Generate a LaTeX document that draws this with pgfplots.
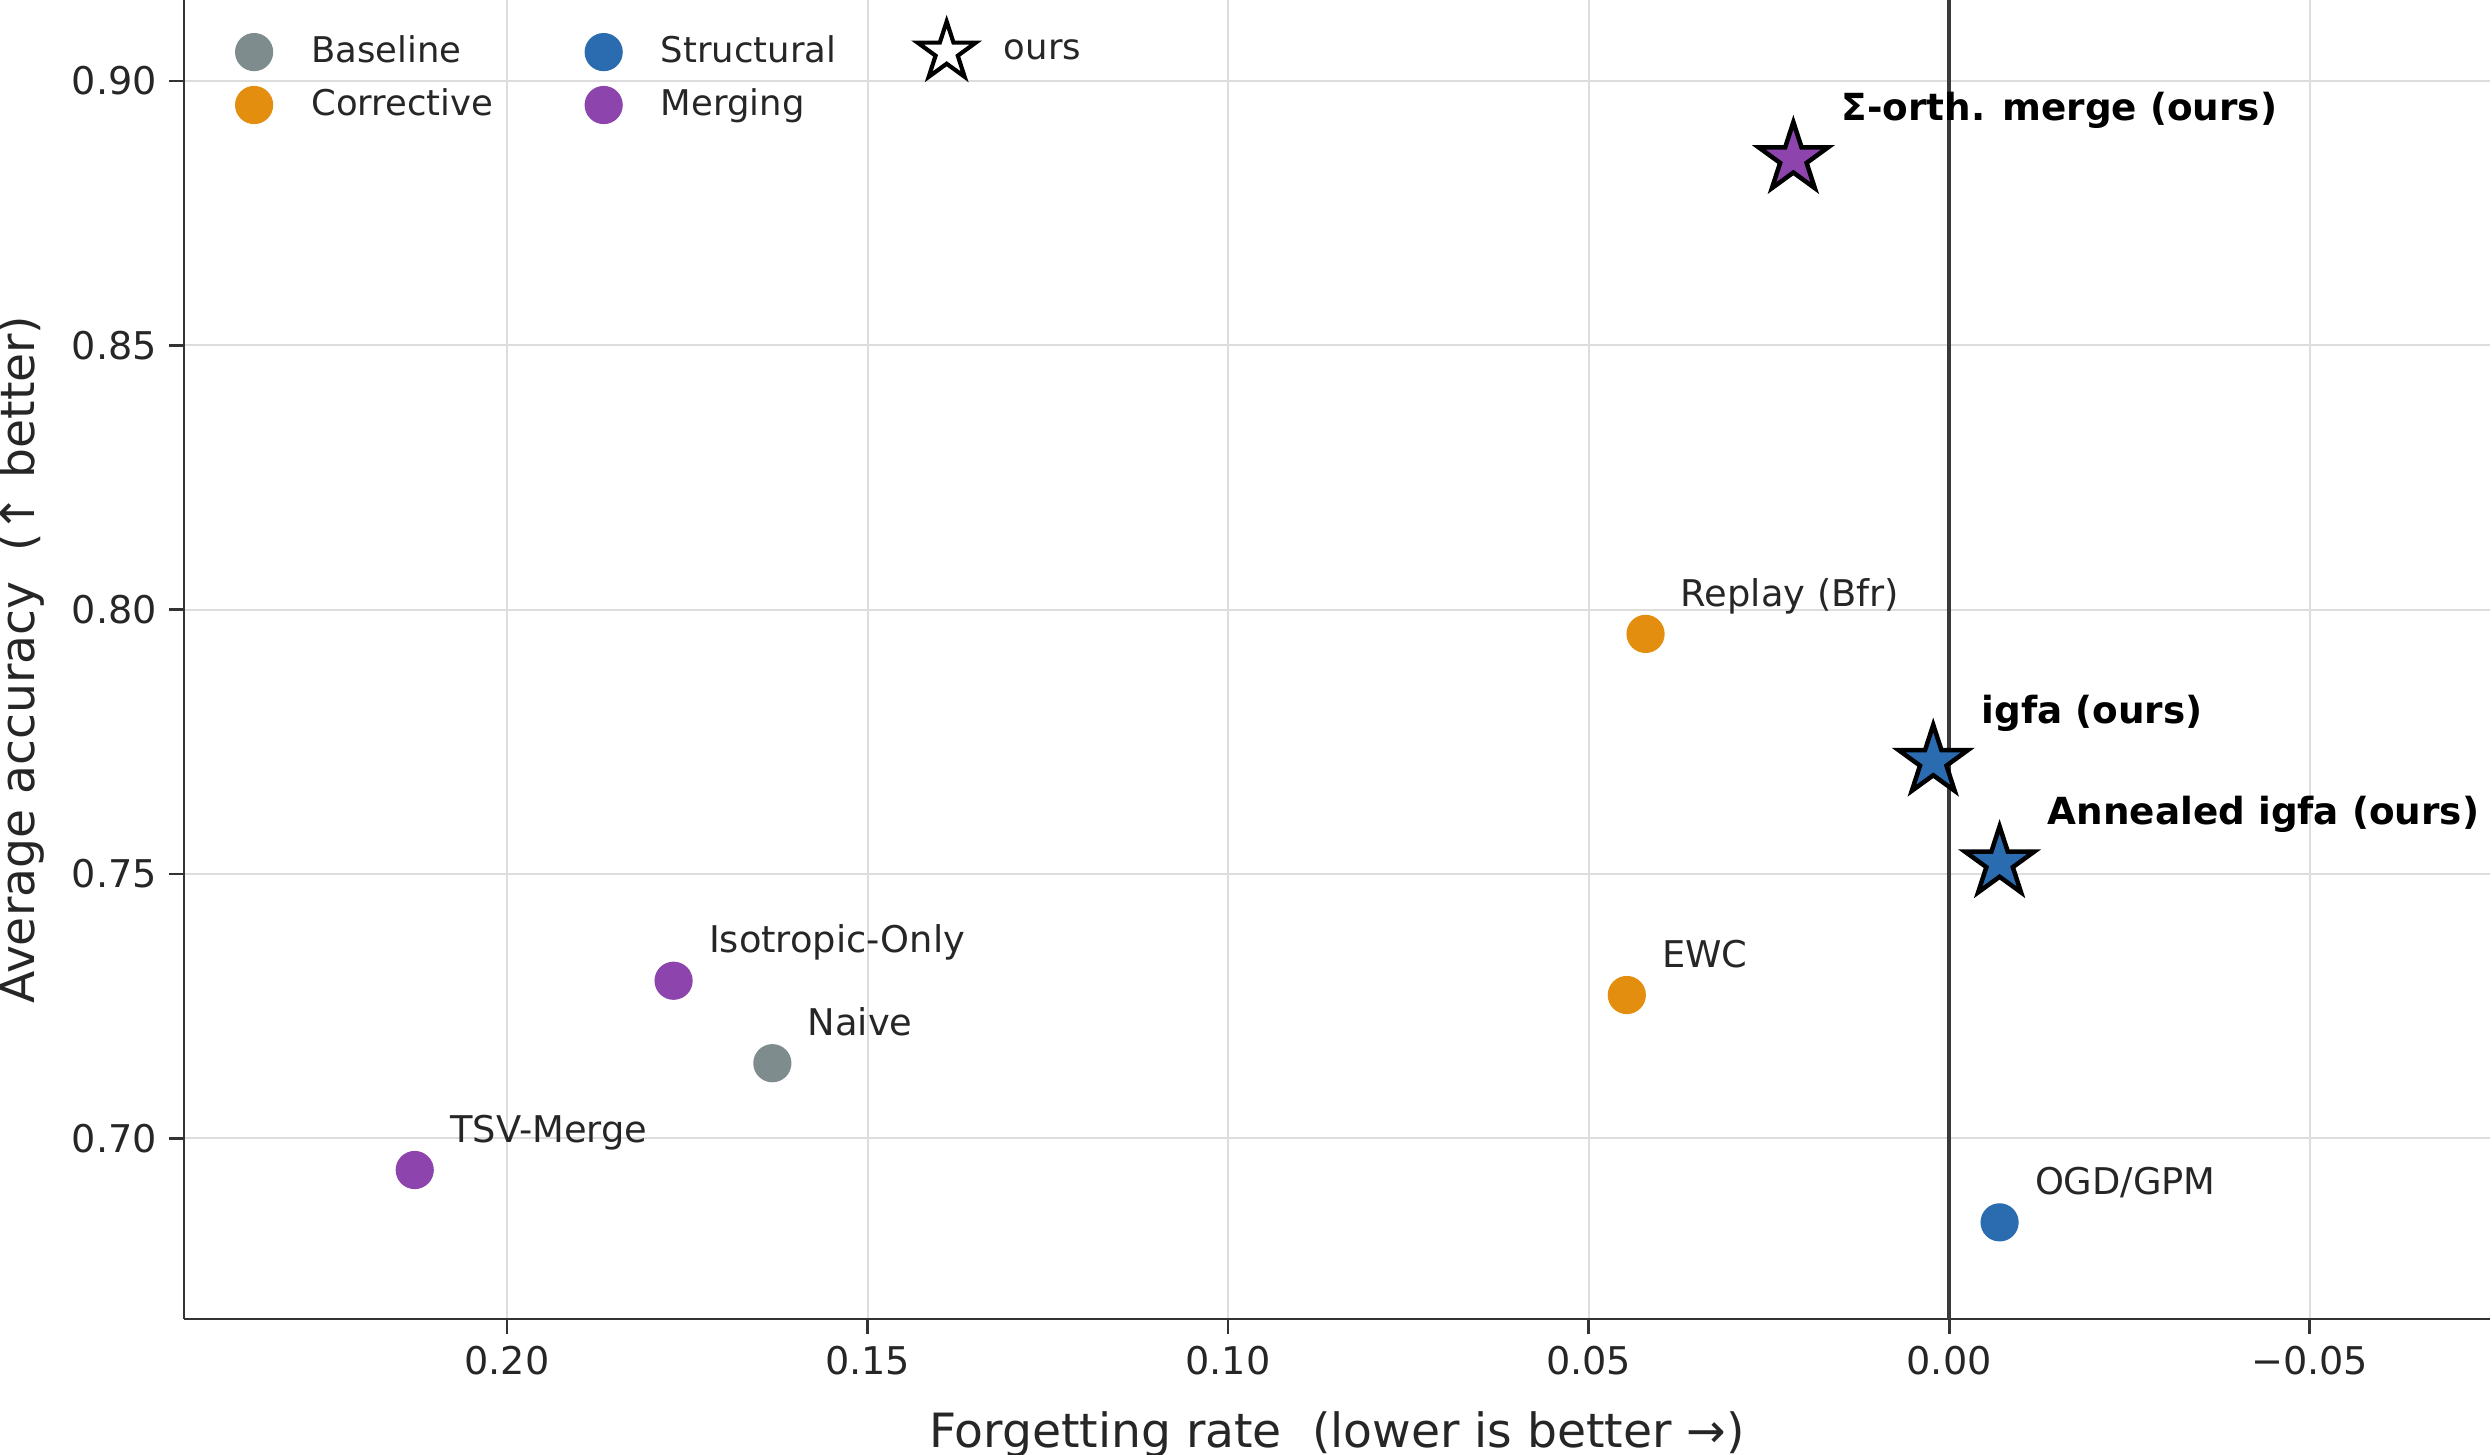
\documentclass[border=0pt]{standalone}
\usepackage{fontspec}
\setmainfont{DejaVu Sans}
\usepackage{pgfplots}
\pgfplotsset{compat=1.18}

\definecolor{cgray}{HTML}{7F8C8D}
\definecolor{corange}{HTML}{E38E0E}
\definecolor{cblue}{HTML}{2B6CB0}
\definecolor{cpurple}{HTML}{8E44AD}
\definecolor{gridc}{HTML}{DDDDDD}
\definecolor{spine}{HTML}{333333}
\definecolor{txt}{HTML}{262626}
\definecolor{vline}{HTML}{3A3A3A}

\pgfdeclareplotmark{fstar}{%
  \pgfpathmoveto{\pgfpointpolar{90}{\pgfplotmarksize}}%
  \pgfpathlineto{\pgfpointpolar{126}{0.381966\pgfplotmarksize}}%
  \pgfpathlineto{\pgfpointpolar{162}{\pgfplotmarksize}}%
  \pgfpathlineto{\pgfpointpolar{198}{0.381966\pgfplotmarksize}}%
  \pgfpathlineto{\pgfpointpolar{234}{\pgfplotmarksize}}%
  \pgfpathlineto{\pgfpointpolar{270}{0.381966\pgfplotmarksize}}%
  \pgfpathlineto{\pgfpointpolar{306}{\pgfplotmarksize}}%
  \pgfpathlineto{\pgfpointpolar{342}{0.381966\pgfplotmarksize}}%
  \pgfpathlineto{\pgfpointpolar{18}{\pgfplotmarksize}}%
  \pgfpathlineto{\pgfpointpolar{54}{0.381966\pgfplotmarksize}}%
  \pgfpathclose
  \pgfusepathqfillstroke
}

\begin{document}
\begin{tikzpicture}
\begin{axis}[name=ax, scale only axis, width=664.1pt, height=379.9pt,
  x dir=reverse, xmin=-0.075, xmax=0.2448, ymin=0.6658, ymax=0.9153,
  axis x line*=bottom, axis y line*=left,
  axis line style={spine, line width=0.8pt, -},
  xtick={0.2,0.15,0.1,0.05,0,-0.05},
  xticklabels={0.20,0.15,0.10,0.05,0.00,−0.05},
  ytick={0.70,0.75,0.80,0.85,0.90},
  yticklabels={0.70,0.75,0.80,0.85,0.90},
  tick align=outside, major tick length=4.3pt,
  tick style={spine, line width=0.8pt},
  grid=major, major grid style={gridc, line width=0.6pt},
  tick label style={font=\fontsize{11}{13}\selectfont, text=txt},
  xlabel={Forgetting rate\ \ (lower is better →)},
  ylabel={Average accuracy\ \ (↑ better)},
  label style={font=\fontsize{13.6}{16}\selectfont, text=txt},
  xlabel style={at={(axis description cs:0.5,-0.0871)}, anchor=center},
  ylabel style={at={(axis description cs:-0.0705,0.5)}, anchor=center},
  clip=false,
  legend columns=3,
  legend cell align=left,
  legend image code/.code={%
    \path[draw=none, fill=none] (-10pt,-5pt) rectangle (14.5pt,5pt);
    \draw[#1] plot coordinates {(0pt,0pt)};},
  legend style={draw=none, fill=none, at={(axis description cs:0,1)}, anchor=north west,
    xshift=7pt, yshift=-4pt, row sep=1.5pt,
    font=\fontsize{10.2}{12}\selectfont, text=txt,
    /tikz/every even column/.append style={column sep=19.8pt}},
]
% legend entries
\addlegendimage{only marks, mark=*, mark size=5.3pt, color=cgray}
\addlegendentry{Baseline}
\addlegendimage{only marks, mark=*, mark size=5.3pt, color=cblue}
\addlegendentry{Structural}
\addlegendimage{only marks, mark=fstar, mark size=8.8pt, draw=black, fill=white, line width=1.2pt, line join=miter}
\addlegendentry{ours}
\addlegendimage{only marks, mark=*, mark size=5.3pt, color=corange}
\addlegendentry{Corrective}
\addlegendimage{only marks, mark=*, mark size=5.3pt, color=cpurple}
\addlegendentry{Merging}

% zero line
\addplot[forget plot, vline, line width=1pt] coordinates {(0,0.6658) (0,0.9153)};

% Baseline
\addplot[forget plot, only marks, mark=*, mark size=5.3pt, color=cgray] coordinates {(0.1632,0.7142)};
% Corrective
\addplot[forget plot, only marks, mark=*, mark size=5.3pt, color=corange] coordinates {(0.0421,0.7954) (0.0447,0.7271)};
% Structural
\addplot[forget plot, only marks, mark=*, mark size=5.3pt, color=cblue] coordinates {(-0.0070,0.6841)};
% Merging
\addplot[forget plot, only marks, mark=*, mark size=5.3pt, color=cpurple] coordinates {(0.1769,0.7298) (0.2128,0.6940)};
% ours
\addplot[forget plot, only marks, mark=fstar, mark size=10.5pt, draw=black, fill=cpurple, line width=1.3pt, line join=miter] coordinates {(0.0216,0.8853)};
\addplot[forget plot, only marks, mark=fstar, mark size=10.5pt, draw=black, fill=cblue, line width=1.3pt, line join=miter] coordinates {(0.0022,0.7713) (-0.0070,0.7521)};

% labels
\begin{scope}[every node/.style={anchor=base west, inner sep=0pt, xshift=10pt, yshift=8pt, font=\fontsize{10.6}{12}\selectfont, text=txt}]
\node at (axis cs:0.0421,0.7954) {Replay (Bfr)};
\node at (axis cs:0.0447,0.7271) {EWC};
\node at (axis cs:-0.0070,0.6841) {OGD/GPM};
\node at (axis cs:0.1769,0.7298) {Isotropic-Only};
\node at (axis cs:0.1632,0.7142) {Naive};
\node at (axis cs:0.2128,0.6940) {TSV-Merge};
\end{scope}
\begin{scope}[every node/.style={anchor=base west, inner sep=0pt, xshift=13.7pt, yshift=11pt, font=\fontsize{10.75}{13}\selectfont\bfseries, text=black}]
\node at (axis cs:0.0216,0.8853) {Σ-orth. merge (ours)};
\node at (axis cs:0.0022,0.7713) {igfa (ours)};
\node at (axis cs:-0.0070,0.7521) {Annealed igfa (ours)};
\end{scope}
\end{axis}
\pgfresetboundingbox
\path[use as bounding box] (ax.south west) ++(-53pt,-38.9pt) rectangle ([xshift=0.6pt]ax.north east);
\end{tikzpicture}
\end{document}
